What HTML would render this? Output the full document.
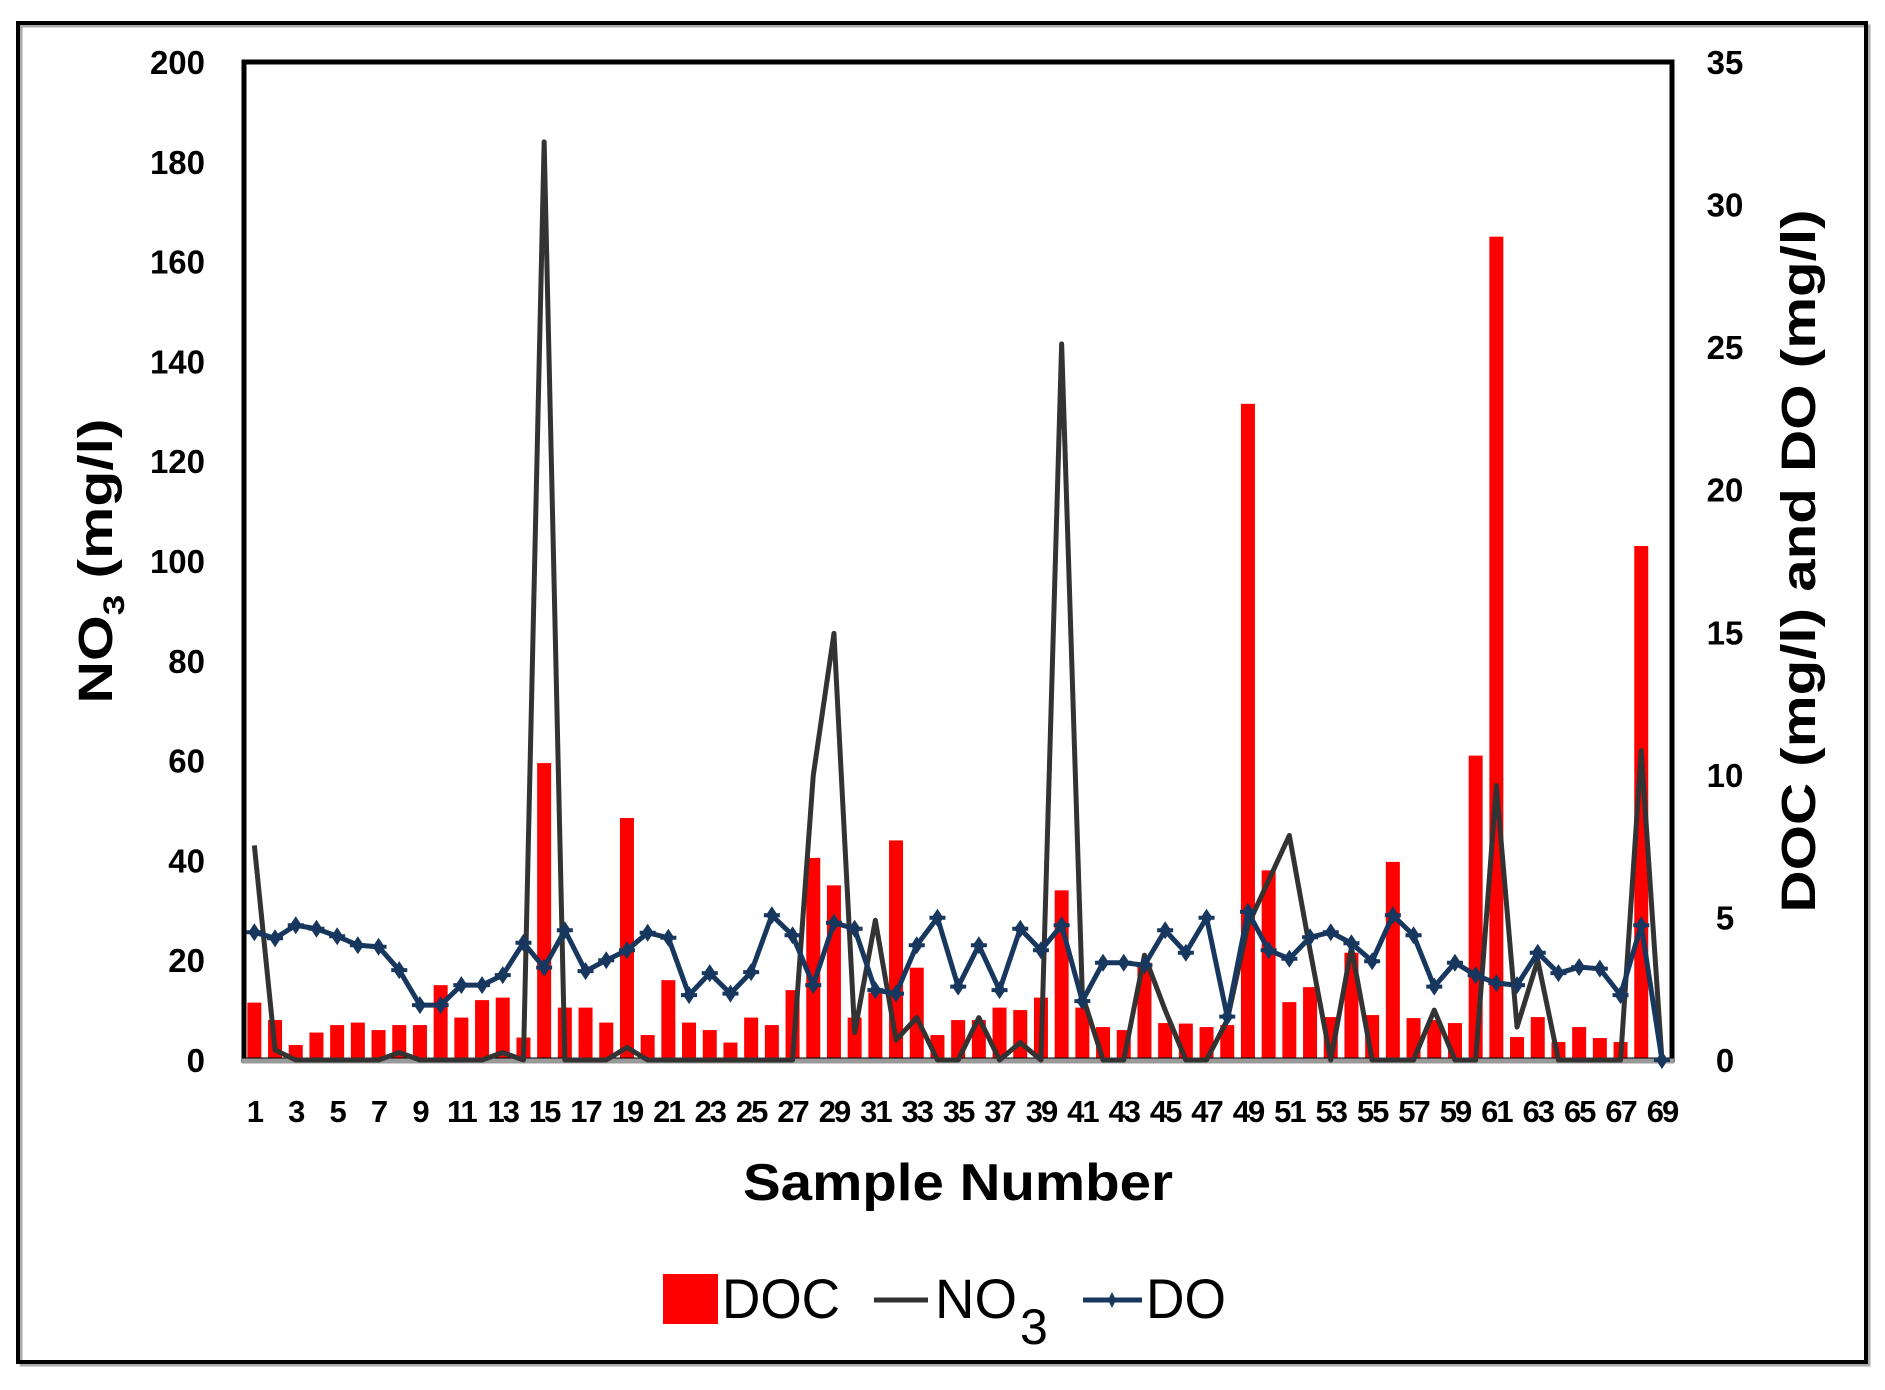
<!DOCTYPE html>
<html><head><meta charset="utf-8">
<style>
html,body{margin:0;padding:0;background:#fff;}
svg{display:block;}
text{font-family:"Liberation Sans",sans-serif;}
</style></head>
<body>
<svg id="s" width="1885" height="1390" viewBox="0 0 1885 1390" xmlns="http://www.w3.org/2000/svg">
<rect x="0" y="0" width="1885" height="1390" fill="#fff"/>
<rect x="21" y="26" width="1848" height="1339" fill="none" stroke="#aaa" stroke-width="3"/>
<rect x="18" y="23" width="1848" height="1339" fill="none" stroke="#000" stroke-width="4"/>
<g id="plot"></g>
<rect x="244" y="62" width="1428" height="998" fill="none" stroke="#000" stroke-width="5"/>
<line x1="242" y1="1061" x2="1674" y2="1061" stroke="#999" stroke-width="5"/>
<g id="lines"></g>
<g id="labels" font-weight="bold" fill="#000"></g>
<text x="958" y="1200" font-size="52" font-weight="bold" text-anchor="middle" textLength="430" lengthAdjust="spacingAndGlyphs">Sample Number</text>
<text transform="translate(112,561) rotate(-90)" font-size="48" font-weight="bold" text-anchor="middle" textLength="285" lengthAdjust="spacingAndGlyphs">NO<tspan font-size="30" dy="12">3</tspan><tspan dy="-12"> (mg/l)</tspan></text>
<text transform="translate(1815,561) rotate(-90)" font-size="48" font-weight="bold" text-anchor="middle" textLength="703" lengthAdjust="spacingAndGlyphs">DOC (mg/l) and DO (mg/l)</text>
<rect x="663" y="1274" width="55" height="50" fill="#ff0000"/>
<text x="722" y="1318" font-size="56" textLength="118" lengthAdjust="spacingAndGlyphs">DOC</text>
<line x1="874" y1="1300" x2="928" y2="1300" stroke="#333" stroke-width="5"/>
<text x="935" y="1318" font-size="56" textLength="82" lengthAdjust="spacingAndGlyphs">NO</text>
<text x="1020" y="1344" font-size="50">3</text>
<line x1="1083" y1="1300" x2="1142" y2="1300" stroke="#17375e" stroke-width="5"/>
<path d="M1112 1292 L1116 1300 L1112 1308 L1108 1300Z" fill="#17375e"/>
<text x="1146" y="1318" font-size="56" textLength="80" lengthAdjust="spacingAndGlyphs">DO</text>
</svg>
<script>
var doc=[11.5,8,3,5.5,7,7.5,6,7,7,15,8.5,12,12.5,4.5,59.5,10.5,10.5,7.5,48.5,5,16,7.5,6,3.5,8.5,7,14,40.5,35,8.5,13.5,44,18.5,5,8,8,10.5,10,12.5,34,10.5,6.6,6,19.5,7.4,7.3,6.6,7,131.5,38,11.6,14.6,8.6,21.5,9,39.7,8.4,8,7.4,61,165,4.6,8.6,3.6,6.6,4.4,3.6,103,0];
var no3=[43,2,0,0,0,0,0,1.5,0,0,0,0,1.5,0,184,0,0,0,2.5,0,0,0,0,0,0,0,0,57,85.5,5.5,28,4,8.5,0,0,8.5,0,3.5,0,143.5,13,0,0,21,10,0,0,8,27,36,45,22,0,22.5,0,0,0,10,0,0,55,6.6,20,0,0,0,0,62,0];
var dO=[25.6,24.4,27,26.3,24.8,23,22.7,18,11,11,15,15,17,23.5,18.5,26,17.8,20,22,25.5,24.5,13,17.4,13.3,17.6,29,25,15,27.5,26.3,14,13.3,23,28.5,14.7,23,14,26.3,22,27,11.8,19.5,19.5,19,26,21.5,28.5,8.7,29.7,22,20.3,24.6,25.6,23.4,19.8,29,25,14.7,19.5,17,15.4,15,21.5,17.4,18.6,18.3,13,27,0];
var L=244,B=1060,H=998,bw=20.7,k=H/200;
function cx(i){return L+bw*(i+0.5);}
function cy(v){return B-v*k;}
var ns="http://www.w3.org/2000/svg";
function el(t,a,p){var e=document.createElementNS(ns,t);for(var q in a)e.setAttribute(q,a[q]);p.appendChild(e);return e;}
var plot=document.getElementById('plot'),lines=document.getElementById('lines'),lab=document.getElementById('labels');
doc.forEach(function(v,i){if(v>0)el('rect',{x:cx(i)-7,y:cy(v),width:14,height:v*k,fill:'#ff0000'},plot);});
el('polyline',{points:no3.map(function(v,i){return cx(i)+','+cy(v);}).join(' '),fill:'none',stroke:'#333','stroke-width':5,'stroke-linejoin':'round'},lines);
el('polyline',{points:dO.map(function(v,i){return cx(i)+','+cy(v);}).join(' '),fill:'none',stroke:'#17375e','stroke-width':5,'stroke-linejoin':'round'},lines);
dO.forEach(function(v,i){var x=cx(i),y=cy(v);el('path',{d:'M'+x+' '+(y-9)+' L'+(x+6)+' '+y+' L'+x+' '+(y+9)+' L'+(x-6)+' '+y+'Z',fill:'#17375e'},lines);el('line',{x1:x-8,y1:y,x2:x+8,y2:y,stroke:'#17375e','stroke-width':4},lines);});
for(var v=0;v<=200;v+=20){var t=el('text',{x:205,y:cy(v)+12,'font-size':33,'text-anchor':'end'},lab);t.textContent=v;}
for(var d=0;d<=35;d+=5){var t=el('text',{x:1725,y:B-d*H/35+12,'font-size':33,'text-anchor':'middle'},lab);t.textContent=d;}
for(var i=0;i<69;i+=2){var t=el('text',{x:cx(i),y:1122,'font-size':31,'text-anchor':'middle','letter-spacing':'-2'},lab);t.textContent=i+1;}
</script>
</body></html>
